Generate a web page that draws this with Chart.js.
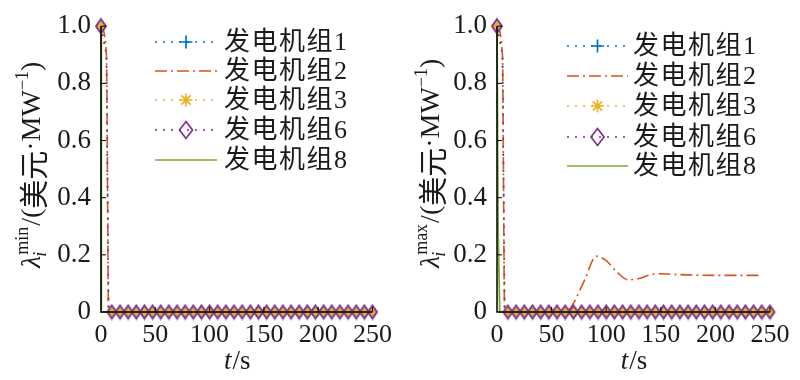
<!DOCTYPE html>
<html><head><meta charset="utf-8">
<script src="https://cdn.jsdelivr.net/npm/chart.js@4/dist/chart.umd.min.js"></script>
<style>
html,body{margin:0;padding:0;background:#fff;}
#wrap{position:relative;width:800px;height:380px;}
.c{position:absolute;top:0;width:400px;height:380px;}
</style></head>
<body><div id="wrap">
<div class="c" style="left:0"><canvas id="cMin" width="400" height="380"></canvas></div>
<div class="c" style="left:400px"><canvas id="cMax" width="400" height="380"></canvas></div>
</div>
<script>
// ---- data ----
const seriesNames = ['发电机组1','发电机组2','发电机组3','发电机组6','发电机组8'];
const xTicks = [0, 50, 100, 150, 200, 250];
const yTicks = [0, 0.2, 0.4, 0.6, 0.8, 1.0];
const tGen = [0, 5, 7, 10, 17.5, 25, 32.5, 40, 47.5, 55, 62.5, 70, 77.5, 85, 92.5, 100, 107.5, 115, 122.5, 130, 137.5, 145, 152.5, 160, 167.5, 175, 182.5, 190, 197.5, 205, 212.5, 220, 227.5, 235, 242.5, 250];
const gen1 = [1, 0.9, 0, 0, 0, 0, 0, 0, 0, 0, 0, 0, 0, 0, 0, 0, 0, 0, 0, 0, 0, 0, 0, 0, 0, 0, 0, 0, 0, 0, 0, 0, 0, 0, 0, 0];
const gen3 = [1, 0.9, 0, 0, 0, 0, 0, 0, 0, 0, 0, 0, 0, 0, 0, 0, 0, 0, 0, 0, 0, 0, 0, 0, 0, 0, 0, 0, 0, 0, 0, 0, 0, 0, 0, 0];
const gen6 = [1, 0.9, 0, 0, 0, 0, 0, 0, 0, 0, 0, 0, 0, 0, 0, 0, 0, 0, 0, 0, 0, 0, 0, 0, 0, 0, 0, 0, 0, 0, 0, 0, 0, 0, 0, 0];
const t2Min = [0, 5, 7, 250];
const gen2Min = [1, 0.9, 0, 0];
const t2Max = [0, 5, 7, 10, 17.5, 25, 32.5, 40, 47.5, 55, 62, 66, 70, 80, 91, 100, 110, 120, 130, 140, 150, 160, 175, 200, 225, 243];
const gen2Max = [1, 0.9, 0, 0, 0, 0, 0, 0, 0, 0, 0, 0.008, 0.03, 0.11, 0.195, 0.18, 0.139, 0.113, 0.117, 0.13, 0.134, 0.132, 0.13, 0.128, 0.128, 0.128];
const t8Min = [0, 0.3, 250];
const gen8Min = [1, 0, 0];
const t8Max = [0, 1, 2.5, 250];
const gen8Max = [1, 0.3, 0, 0];

const COL = {g1:'#0072BD', g2:'#D95319', g3:'#EDB120', g6:'#7E2F8E', g8:'#77AC30'};
const SERIF = "'Liberation Serif','Noto Sans CJK SC',serif";
const DOT = [2,6];
const DASHDOT = [12,4,2,4];

function pts(t, v){ return t.map((x,i)=>({x:x, y:v[i]})); }
function isMark(ctx){ const x = ctx.raw ? ctx.raw.x : 0; return (x===0 || x>=10); }

function diamondImg(w, h, color, lw){
  const c = document.createElement('canvas'); c.width = w+4; c.height = h+4;
  const g = c.getContext('2d'); g.strokeStyle=color; g.lineWidth=lw;
  const cx=c.width/2, cy=c.height/2;
  g.beginPath(); g.moveTo(cx,cy-h/2); g.lineTo(cx+w/2,cy); g.lineTo(cx,cy+h/2); g.lineTo(cx-w/2,cy); g.closePath(); g.stroke();
  return c;
}
const diaPlot = diamondImg(9, 13, COL.g6, 1.9);
const diaTop = diamondImg(10, 14, COL.g6, 1.9);

function drawMarker(ctx, kind, x, y, r, color){
  ctx.save(); ctx.strokeStyle=color; ctx.lineWidth=1.7; ctx.setLineDash([]);
  ctx.beginPath();
  if(kind==='plus'){ ctx.moveTo(x-r,y); ctx.lineTo(x+r,y); ctx.moveTo(x,y-r); ctx.lineTo(x,y+r); }
  else if(kind==='star'){ ctx.moveTo(x-r,y); ctx.lineTo(x+r,y); ctx.moveTo(x,y-r); ctx.lineTo(x,y+r);
    const d=r*0.72; ctx.moveTo(x-d,y-d); ctx.lineTo(x+d,y+d); ctx.moveTo(x-d,y+d); ctx.lineTo(x+d,y-d); }
  else if(kind==='diamond'){ ctx.moveTo(x,y-r*1.3); ctx.lineTo(x+r,y); ctx.lineTo(x,y+r*1.3); ctx.lineTo(x-r,y); ctx.closePath(); }
  ctx.stroke(); ctx.restore();
}

function makePlugin(cfg){
  return {
    id:'custom',
    afterDraw(chart){
      const ctx = chart.ctx, a = chart.chartArea, xs = chart.scales.x, ys = chart.scales.y;
      ctx.save();
      // axes
      ctx.strokeStyle='#000'; ctx.lineWidth=1.5; ctx.setLineDash([]);
      ctx.beginPath(); ctx.moveTo(a.left, a.top); ctx.lineTo(a.left, a.bottom); ctx.lineTo(a.right, a.bottom); ctx.stroke();
      ctx.lineWidth=1;
      ctx.beginPath();
      xTicks.forEach(v=>{ if(v===0) return; const p=xs.getPixelForValue(v); ctx.moveTo(p,a.bottom); ctx.lineTo(p,a.bottom-5); });
      yTicks.forEach(v=>{ if(v===0) return; const p=ys.getPixelForValue(v); ctx.moveTo(a.left,p); ctx.lineTo(a.left+5,p); });
      ctx.stroke();
      // legend
      const items = [
        {c:COL.g1, dash:DOT, m:'plus'},
        {c:COL.g2, dash:DASHDOT, m:null},
        {c:COL.g3, dash:DOT, m:'star'},
        {c:COL.g6, dash:DOT, m:'diamond'},
        {c:COL.g8, dash:[], m:null}
      ];
      items.forEach((it,i)=>{
        const y = cfg.rows[i];
        ctx.strokeStyle=it.c; ctx.lineWidth=1.6; ctx.setLineDash(it.dash);
        ctx.beginPath(); ctx.moveTo(cfg.lx0,y); ctx.lineTo(cfg.lx1,y); ctx.stroke();
        if(it.m) drawMarker(ctx, it.m, (cfg.lx0+cfg.lx1)/2, y, 6.5, it.c);
        ctx.setLineDash([]);
        ctx.fillStyle='#1a1a1a'; ctx.font="26px "+SERIF; ctx.textBaseline='middle'; ctx.textAlign='left';
        ctx.letterSpacing='1.5px';
        ctx.fillText(seriesNames[i], cfg.tx, y+1);
        ctx.letterSpacing='0px';
      });
      // x title
      ctx.fillStyle='#1a1a1a'; ctx.textBaseline='middle';
      ctx.font="italic 27px "+SERIF; const w1=ctx.measureText('t').width;
      ctx.font="27px "+SERIF; const w2=ctx.measureText('/s').width;
      let x0 = (a.left+a.right)/2 - (w1+w2)/2;
      ctx.textAlign='left';
      ctx.font="italic 27px "+SERIF; ctx.fillText('t', x0, 362);
      ctx.font="27px "+SERIF; ctx.fillText('/s', x0+w1+1, 362);
      // y title (rotated)
      ctx.save();
      ctx.translate(cfg.titleX, cfg.titleBottom); ctx.rotate(-Math.PI/2);
      ctx.textAlign='left'; ctx.textBaseline='middle';
      let p=0;
      ctx.font="italic 28px "+SERIF; ctx.fillText('λ', p, 0); p+=ctx.measureText('λ').width;
      ctx.font="italic 18px "+SERIF; ctx.fillText('i', p-1, 8);
      ctx.font="18px "+SERIF; ctx.fillText(cfg.sup, p+1, -10); p+=ctx.measureText(cfg.sup).width+2;
      ctx.font="28px "+SERIF; ctx.fillText('/(', p, 0); p+=ctx.measureText('/(').width;
      ctx.font="29px 'Noto Sans CJK SC',sans-serif"; ctx.fillText('美元', p, 1); p+=ctx.measureText('美元').width;
      ctx.font="28px "+SERIF; ctx.fillText('·MW', p, 0); p+=ctx.measureText('·MW').width;
      ctx.font="18px "+SERIF; ctx.fillText('−1', p, -10); p+=ctx.measureText('−1').width;
      ctx.font="28px "+SERIF; ctx.fillText(')', p, 0);
      ctx.restore();
      ctx.restore();
    }
  };
}

function makeChart(id, g2, g8, cfg){
  const ds = [
    {label:seriesNames[4], data:g8, borderColor:COL.g8, borderWidth:1.8, pointRadius:0},
    {label:seriesNames[3], data:pts(tGen,gen6), borderColor:COL.g6, borderWidth:1.5, borderDash:DOT,
      pointStyle:ctx=>(ctx.raw && ctx.raw.x===0)?diaTop:diaPlot, pointRadius:ctx=>isMark(ctx)?5:0},
    {label:seriesNames[2], data:pts(tGen,gen3), borderColor:COL.g3, borderWidth:1.5, borderDash:DOT,
      pointStyle:'star', pointRadius:ctx=>isMark(ctx)?4.5:0, pointBorderColor:COL.g3, pointBorderWidth:2},
    {label:seriesNames[1], data:g2, borderColor:COL.g2, borderWidth:1.6, borderDash:DASHDOT, pointRadius:0, cubicInterpolationMode:'monotone'},
    {label:seriesNames[0], data:pts(tGen,gen1), borderColor:COL.g1, borderWidth:1.5, borderDash:DOT,
      pointStyle:'cross', pointRadius:ctx=>isMark(ctx)?4.5:0, pointBorderColor:COL.g1, pointBorderWidth:1.5}
  ];
  ds.forEach(d=>{ d.clip=false; d.fill=false; d.backgroundColor='rgba(0,0,0,0)'; });
  return new Chart(document.getElementById(id), {
    type:'line',
    data:{datasets:ds},
    options:{
      responsive:false, animation:false, events:[],
      layout:{padding:{top:16, right:cfg.padR, left:0, bottom:0}},
      plugins:{legend:{display:false}, tooltip:{enabled:false}},
      scales:{
        x:{type:'linear', min:0, max:250, afterBuildTicks:s=>{s.ticks=xTicks.map(v=>({value:v}));},
          grid:{display:false, drawTicks:false}, border:{display:false},
          ticks:{padding:8, color:'#1a1a1a', font:{family:SERIF, size:26}, maxRotation:0, callback:v=>String(v)},
          afterFit:s=>{s.height=68;}},
        y:{min:0, max:1, afterBuildTicks:s=>{s.ticks=yTicks.map(v=>({value:v}));},
          grid:{display:false, drawTicks:false}, border:{display:false},
          ticks:{padding:10, color:'#1a1a1a', font:{family:SERIF, size:27}, callback:v=>v===0?'0':v.toFixed(1)},
          afterFit:s=>{s.width=cfg.yW;}}
      }
    },
    plugins:[makePlugin(cfg)]
  });
}

makeChart('cMin', pts(t2Min,gen2Min), pts(t8Min,gen8Min),
  {padR:26, yW:101, lx0:155, lx1:217, tx:224, rows:[42,71,100,130,160], titleX:33, titleBottom:268, sup:'min'});
makeChart('cMax', pts(t2Max,gen2Max), pts(t8Max,gen8Max),
  {padR:30, yW:97, lx0:167, lx1:228, tx:233, rows:[46,76,106,137,166], titleX:32, titleBottom:268, sup:'max'});
</script>
</body></html>
